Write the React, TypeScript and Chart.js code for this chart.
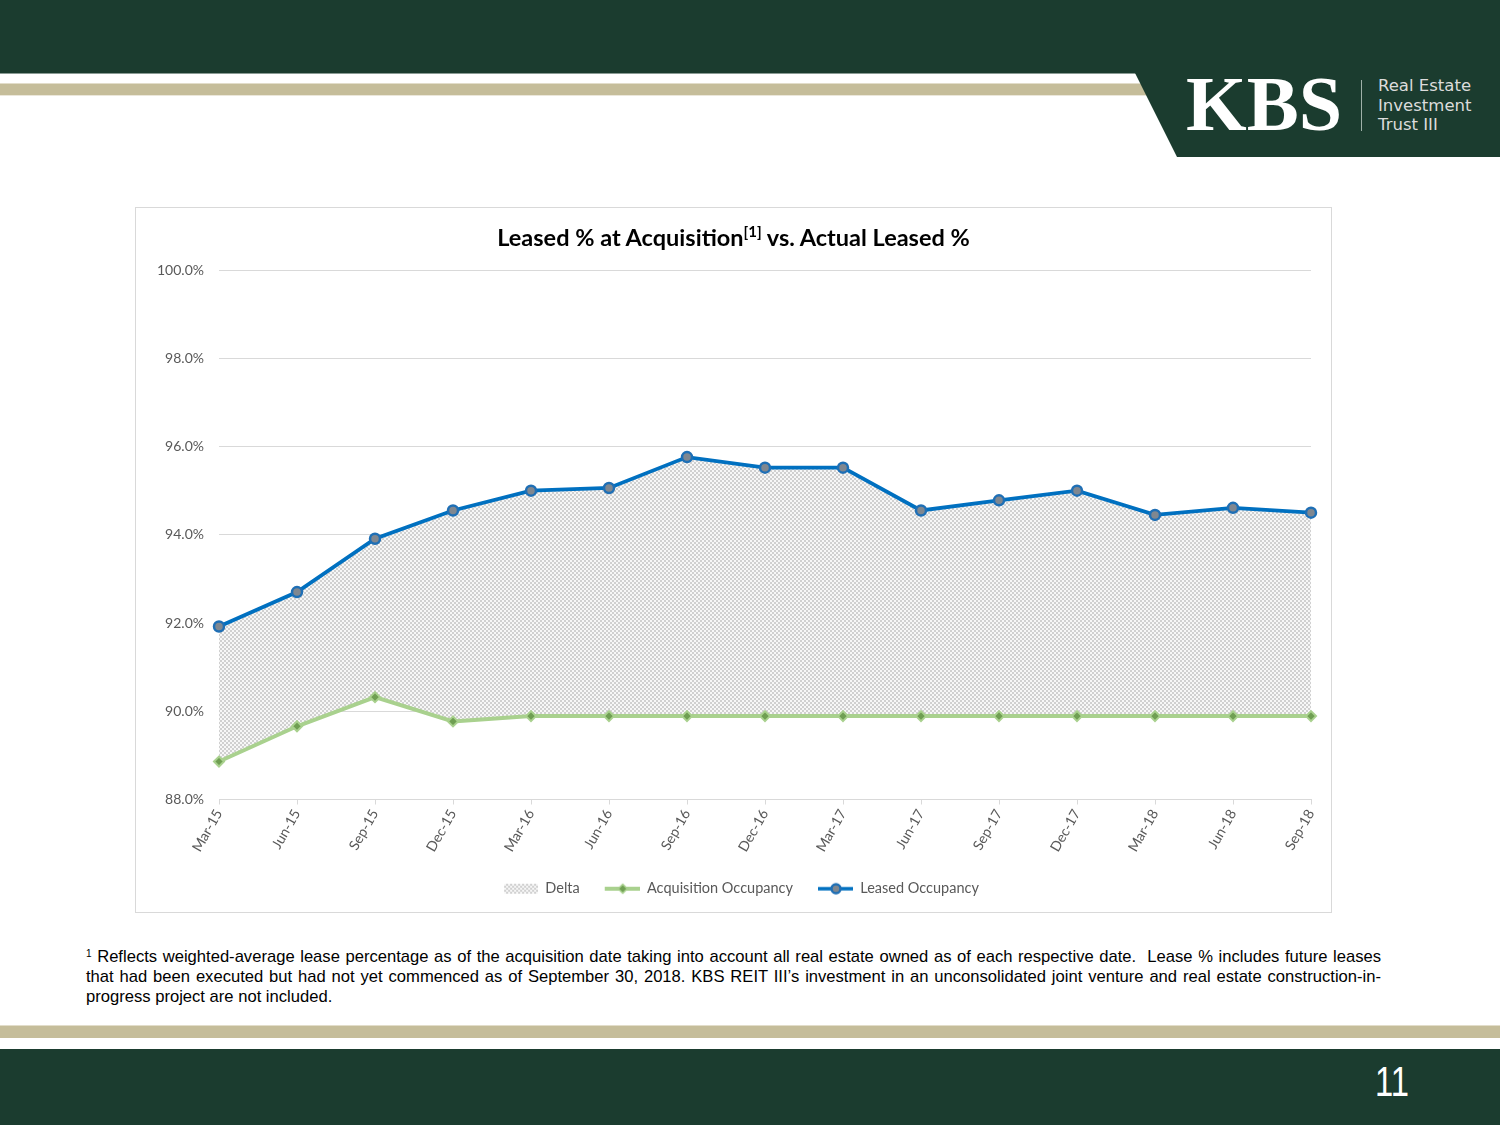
import React, { useEffect, useRef } from "react";
import { Chart, registerables } from "chart.js";

Chart.register(...registerables);

const categories = [
  "Mar-15", "Jun-15", "Sep-15", "Dec-15", "Mar-16", "Jun-16", "Sep-16", "Dec-16",
  "Mar-17", "Jun-17", "Sep-17", "Dec-17", "Mar-18", "Jun-18", "Sep-18",
];
const leasedOccupancy = [
  91.92, 92.7, 93.91, 94.55, 95.0, 95.06, 95.76, 95.52, 95.52, 94.55, 94.78, 95.0, 94.45, 94.61, 94.5,
];
const acquisitionOccupancy = [
  88.86, 89.66, 90.32, 89.77, 89.89, 89.89, 89.89, 89.89, 89.89, 89.89, 89.89, 89.89, 89.89, 89.89, 89.89,
];
const seriesNames = ["Delta", "Acquisition Occupancy", "Leased Occupancy"];
const yMin = 88;
const yMax = 100;
const yStep = 2;

const GREEN = "#1b3c2f";
const TAN = "#c5bd9a";
const BLUE = "#0070c0";
const LIGHT_GREEN = "#a9d18e";
const TEXT_GRAY = "#595959";
const GRID = "#d9d9d9";

function makePattern(ctx: CanvasRenderingContext2D): CanvasPattern | string {
  const c = document.createElement("canvas");
  c.width = 4;
  c.height = 4;
  const p = c.getContext("2d")!;
  p.fillStyle = "#f7f7f7";
  p.fillRect(0, 0, 4, 4);
  p.fillStyle = "#d0d0d0";
  p.fillRect(0, 0, 2, 2);
  p.fillRect(2, 2, 2, 2);
  return ctx.createPattern(c, "repeat") || "#e4e4e4";
}

function makeIcon(kind: number): HTMLCanvasElement {
  const c = document.createElement("canvas");
  c.width = 50;
  c.height = 14;
  const g = c.getContext("2d")!;
  if (kind === 0) {
    g.fillStyle = makePattern(g) as any;
    g.fillRect(16, 2, 34, 10);
  } else if (kind === 1) {
    g.strokeStyle = LIGHT_GREEN;
    g.lineWidth = 4;
    g.beginPath();
    g.moveTo(15, 7);
    g.lineTo(50, 7);
    g.stroke();
    g.fillStyle = "#6f9f52";
    g.strokeStyle = LIGHT_GREEN;
    g.lineWidth = 1.5;
    g.beginPath();
    g.moveTo(33, 2.5);
    g.lineTo(37.5, 7);
    g.lineTo(33, 11.5);
    g.lineTo(28.5, 7);
    g.closePath();
    g.fill();
    g.stroke();
  } else {
    g.strokeStyle = BLUE;
    g.lineWidth = 3.5;
    g.beginPath();
    g.moveTo(15, 7);
    g.lineTo(50, 7);
    g.stroke();
    g.fillStyle = "#7f8790";
    g.strokeStyle = "#1f6fb5";
    g.lineWidth = 2.5;
    g.beginPath();
    g.arc(33, 7, 4.5, 0, Math.PI * 2);
    g.fill();
    g.stroke();
  }
  return c;
}

function ChartBox() {
  const ref = useRef<HTMLCanvasElement | null>(null);
  useEffect(() => {
    const canvas = ref.current!;
    const ctx = canvas.getContext("2d")!;
    const pattern = makePattern(ctx);
    const icons = [makeIcon(0), makeIcon(1), makeIcon(2)];
    const family = "Lato, 'Open Sans', sans-serif";
    const chart = new Chart(ctx, {
      type: "line",
      data: {
        labels: categories,
        datasets: [
          {
            label: seriesNames[0],
            data: leasedOccupancy,
            fill: 1,
            backgroundColor: pattern as any,
            borderColor: "rgba(0,0,0,0)",
            borderWidth: 0,
            pointRadius: 0,
            tension: 0,
            order: 3,
          },
          {
            label: seriesNames[1],
            data: acquisitionOccupancy,
            fill: false,
            borderColor: LIGHT_GREEN,
            borderWidth: 4,
            pointStyle: "rectRot",
            pointRadius: 5,
            pointBackgroundColor: "#6f9f52",
            pointBorderColor: LIGHT_GREEN,
            pointBorderWidth: 2,
            tension: 0,
            order: 2,
          },
          {
            label: seriesNames[2],
            data: leasedOccupancy,
            fill: false,
            borderColor: BLUE,
            borderWidth: 3.8,
            pointStyle: "circle",
            pointRadius: 5,
            pointBackgroundColor: "#7f8790",
            pointBorderColor: "#1f6fb5",
            pointBorderWidth: 2.5,
            tension: 0,
            order: 1,
          },
        ],
      },
      options: {
        animation: false,
        responsive: false,
        maintainAspectRatio: false,
        devicePixelRatio: 1,
        layout: { padding: { top: 62, right: 20, left: 20, bottom: 6 } },
        plugins: {
          title: { display: false },
          tooltip: { enabled: false },
          legend: {
            position: "bottom",
            labels: {
              usePointStyle: true,
              pointStyleWidth: 50,
              padding: 10,
              color: TEXT_GRAY,
              font: { family, size: 14.5 },
              generateLabels: () =>
                seriesNames.map((name, i) => ({
                  text: name,
                  pointStyle: icons[i] as any,
                  fillStyle: "rgba(0,0,0,0)",
                  strokeStyle: "rgba(0,0,0,0)",
                  lineWidth: 0,
                  hidden: false,
                  datasetIndex: i,
                  fontColor: TEXT_GRAY,
                })),
            },
          },
        },
        scales: {
          x: {
            type: "category",
            offset: false,
            grid: {
              display: true,
              drawOnChartArea: false,
              drawTicks: true,
              tickLength: 5,
              color: GRID,
            },
            border: { display: true, color: GRID, width: 1 },
            ticks: {
              autoSkip: false,
              maxRotation: 60,
              minRotation: 60,
              color: TEXT_GRAY,
              font: { family, size: 14 },
              padding: 2,
            },
            afterFit: (s: any) => {
              s.height = 72;
            },
          },
          y: {
            min: yMin,
            max: yMax,
            ticks: {
              stepSize: yStep,
              callback: (v: any) => Number(v).toFixed(1) + "%",
              color: TEXT_GRAY,
              font: { family, size: 14 },
              padding: 15,
            },
            grid: { color: GRID, drawTicks: false },
            border: { display: false },
            afterFit: (s: any) => {
              s.width = 63;
            },
          },
        },
      },
    } as any);
    return () => chart.destroy();
  }, []);
  return (
    <canvas
      ref={ref}
      width={1195}
      height={704}
      style={{ position: "absolute", left: 136, top: 208, width: 1195, height: 704, display: "block" }}
    />
  );
}

export default function App() {
  const lineStyle: React.CSSProperties = {
    whiteSpace: "nowrap",
    textAlign: "justify",
    textAlignLast: "justify" as any,
    width: 1295,
  };
  return (
    <div
      style={{
        position: "absolute",
        left: 0,
        top: 0,
        width: 1500,
        height: 1125,
        background: "#ffffff",
        overflow: "hidden",
        fontFamily: "'Liberation Sans', Arial, sans-serif",
      }}
    >
      {/* header */}
      <div style={{ position: "absolute", left: 0, top: 0, width: 1500, height: 73, background: GREEN }} />
      <div style={{ position: "absolute", left: 0, top: 73, width: 1500, height: 1, background: "#8a9b94" }} />
      <div style={{ position: "absolute", left: 0, top: 83, width: 1150, height: 1, background: "#e2ddca" }} />
      <div style={{ position: "absolute", left: 0, top: 84, width: 1150, height: 11, background: TAN }} />
      <div style={{ position: "absolute", left: 0, top: 95, width: 1150, height: 1, background: "#ebe7da" }} />
      <svg width={1500} height={160} style={{ position: "absolute", left: 0, top: 0 }}>
        <polygon points="1135,73 1500,73 1500,157 1177,157" fill={GREEN} />
      </svg>
      <div
        style={{
          position: "absolute",
          left: 1186,
          top: 65,
          fontFamily: "'Liberation Serif', 'DejaVu Serif', serif",
          fontWeight: 700,
          fontSize: 78,
          lineHeight: "78px",
          color: "#ffffff",
          whiteSpace: "nowrap",
        }}
      >
        KBS
      </div>
      <div style={{ position: "absolute", left: 1361, top: 80, width: 1, height: 51, background: "#9fb0a8" }} />
      <div
        style={{
          position: "absolute",
          left: 1378,
          top: 76,
          fontFamily: "'DejaVu Sans', Verdana, sans-serif",
          fontSize: 16.5,
          lineHeight: "19.5px",
          color: "#dcdcdc",
          whiteSpace: "nowrap",
        }}
      >
        <div>Real Estate</div>
        <div>Investment</div>
        <div>Trust III</div>
      </div>

      {/* chart frame */}
      <div
        style={{
          position: "absolute",
          left: 135,
          top: 207,
          width: 1197,
          height: 706,
          boxSizing: "border-box",
          border: "1px solid " + GRID,
        }}
      />
      <ChartBox />
      <div
        style={{
          position: "absolute",
          left: 135,
          top: 222,
          width: 1197,
          textAlign: "center",
          fontFamily: "Lato, 'Open Sans', sans-serif",
          fontWeight: 700,
          fontSize: 23.5,
          lineHeight: "30px",
          color: "#000000",
          whiteSpace: "nowrap",
        }}
      >
        Leased % at Acquisition
        <sup style={{ fontSize: 15, lineHeight: 0 }}>[1]</sup> vs. Actual Leased %
      </div>

      {/* footnote */}
      <div
        style={{
          position: "absolute",
          left: 86,
          top: 947,
          fontSize: 16.6,
          lineHeight: "20px",
          color: "#000000",
        }}
      >
        <div style={lineStyle}>
          <sup style={{ fontSize: 10, lineHeight: 0, verticalAlign: "5px" }}>1</sup> Reflects weighted-average lease
          percentage as of the acquisition date taking into account all real estate owned as of each respective
          date.&nbsp; Lease % includes future leases
        </div>
        <div style={lineStyle}>
          that had been executed but had not yet commenced as of September 30, 2018. KBS REIT III’s investment in an
          unconsolidated joint venture and real estate construction-in-
        </div>
        <div style={{ whiteSpace: "nowrap" }}>progress project are not included.</div>
      </div>

      {/* footer */}
      <div style={{ position: "absolute", left: 0, top: 1025, width: 1500, height: 1, background: "#e2ddca" }} />
      <div style={{ position: "absolute", left: 0, top: 1026, width: 1500, height: 12, background: TAN }} />
      <div style={{ position: "absolute", left: 0, top: 1049, width: 1500, height: 76, background: GREEN }} />
      <div
        style={{
          position: "absolute",
          left: 1375,
          top: 1061,
          fontSize: 42,
          lineHeight: "42px",
          color: "#ffffff",
          whiteSpace: "nowrap",
          transform: "scaleX(0.78)",
          transformOrigin: "left top",
        }}
      >
        11
      </div>
    </div>
  );
}
